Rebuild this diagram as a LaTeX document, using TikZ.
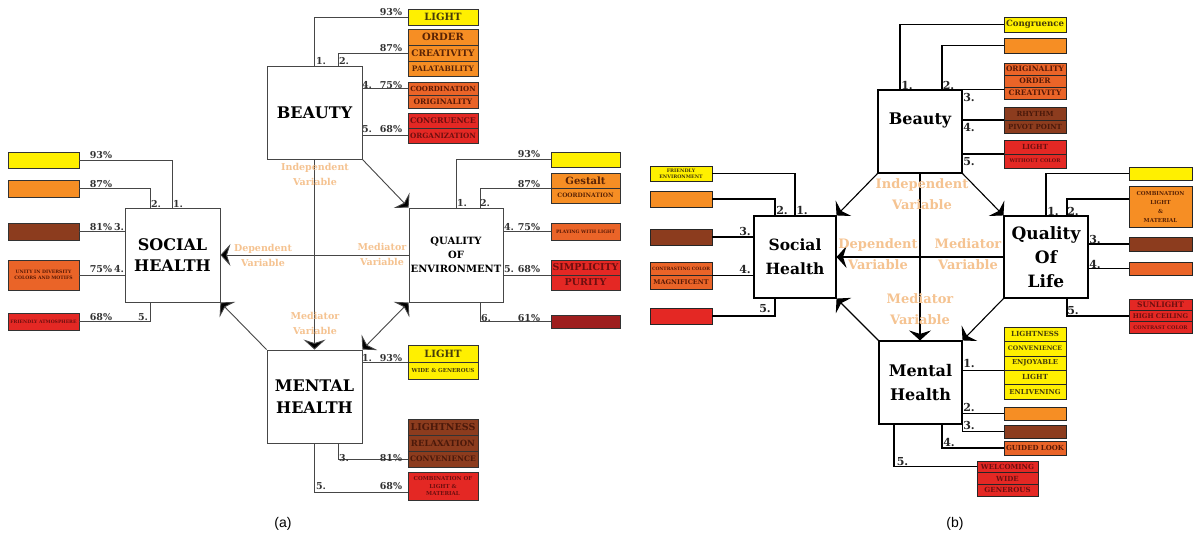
\documentclass[tikz,border=0pt]{standalone}
\usepackage{fontspec}
\usepackage{graphicx}
\setmainfont{DejaVu Serif}
\newfontfamily\capfont{Liberation Sans}
\usetikzlibrary{arrows.meta}
\definecolor{cY}{RGB}{255,240,0}
\definecolor{cO}{RGB}{246,142,36}
\definecolor{cOR}{RGB}{234,100,40}
\definecolor{cBR}{RGB}{140,60,30}
\definecolor{cR}{RGB}{228,40,36}
\definecolor{cDR}{RGB}{158,30,30}
\definecolor{tY}{RGB}{70,60,10}
\definecolor{tO}{RGB}{90,35,5}
\definecolor{tOR}{RGB}{90,25,5}
\definecolor{tBR}{RGB}{75,25,10}
\definecolor{tR}{RGB}{110,15,15}
\definecolor{peach}{RGB}{245,195,145}
\definecolor{lineA}{RGB}{70,70,70}
\newsavebox\fitbox
\newcommand\fitw[2]{\sbox\fitbox{#2}\ifdim\wd\fitbox>#1\relax\resizebox{#1}{!}{\usebox\fitbox}\else\usebox\fitbox\fi}
\newcommand\fitA[1]{\fitw{66pt}{#1}}
\newcommand\fitB[1]{\fitw{58pt}{#1}}
\newcommand\myfs[2]{\fontsize{#1}{#2}\selectfont}
\tikzset{
  mboxA/.style={draw=lineA, line width=0.9pt, fill=white, inner sep=0pt, align=center},
  mboxB/.style={draw=black, line width=1.1pt, fill=white, inner sep=0pt, align=center},
  cellA/.style={draw=black!80, line width=0.6pt, minimum width=70, inner sep=0pt, outer sep=0pt, align=center},
  cellB/.style={draw=black!85, line width=0.6pt, minimum width=62, inner sep=0pt, outer sep=0pt, align=center},
  fY/.style={fill=cY, text=tY}, fO/.style={fill=cO, text=tO}, fOR/.style={fill=cOR, text=tOR},
  fBR/.style={fill=cBR, text=tBR}, fR/.style={fill=cR, text=tR}, fDR/.style={fill=cDR, text=tR},
  connA/.style={draw=lineA, line width=0.9pt},
  connB/.style={draw=black, line width=1.1pt},
  chev/.tip={Stealth[length=10pt,width=22pt,inset=3.5pt,fill=black]},
  arr/.style={-chev},
  dbl/.style={chev-chev},
  pct/.style={font=\bfseries\myfs{9.5}{9.5}, text=black!80, inner sep=0pt},
  numB/.style={font=\bfseries\myfs{11}{11}, text=black!85, inner sep=0pt},
  lblA/.style={font=\bfseries\myfs{9.5}{15}, text=peach, align=center, inner sep=0pt},
  lblB/.style={font=\bfseries\myfs{13}{21}, text=peach, align=center, inner sep=0pt},
}
\begin{document}
\begin{tikzpicture}[x=1pt, y=-1pt]
\fill[white] (0,0) rectangle (1194,546);
\useasboundingbox (0,0) rectangle (1194,546);

% ================= (a) =================
\node[mboxA, minimum width=95, minimum height=93, font=\bfseries\myfs{16}{20}] (beautyA) at (314.5,112.5) {BEAUTY};
\node[mboxA, minimum width=95, minimum height=94, font=\bfseries\myfs{16}{21}] (socialA) at (172.5,255) {SOCIAL\\HEALTH};
\node[mboxA, minimum width=94, minimum height=94, font=\bfseries\myfs{10}{14}] (qoeA) at (456,255) {QUALITY\\OF\\ENVIRONMENT};
\node[mboxA, minimum width=95, minimum height=93, font=\bfseries\myfs{16}{22}] (mentalA) at (314.5,396.5) {MENTAL\\HEALTH};

% beauty items
\node[cellA, fY, minimum height=16, font=\bfseries\myfs{10}{10}] (a1) at (443,17) {\fitA{LIGHT}};
\node[cellA, fO, minimum height=16, font=\bfseries\myfs{10}{10}] (a2a) at (443,37) {\fitA{ORDER}};
\node[cellA, fO, minimum height=16, font=\bfseries\myfs{9}{9}] (a2b) at (443,53) {\fitA{CREATIVITY}};
\node[cellA, fO, minimum height=15, font=\bfseries\myfs{7.5}{7.5}] (a2c) at (443,68.5) {\fitA{PALATABILITY}};
\node[cellA, fOR, minimum height=13, font=\bfseries\myfs{7}{7}] (a4a) at (443,88.5) {\fitA{COORDINATION}};
\node[cellA, fOR, minimum height=13, font=\bfseries\myfs{7.5}{7.5}] (a4b) at (443,101.5) {\fitA{ORIGINALITY}};
\node[cellA, fR, minimum height=15, font=\bfseries\myfs{8}{8}] (a5a) at (443,120.5) {\fitA{CONGRUENCE}};
\node[cellA, fR, minimum height=15, font=\bfseries\myfs{7.5}{7.5}] (a5b) at (443,135.5) {\fitA{ORGANIZATION}};

% social items
\node[cellA, fY, minimum width=71, minimum height=16] (sa1) at (43.5,160) {};
\node[cellA, fO, minimum width=71, minimum height=17] (sa2) at (43.5,188.5) {};
\node[cellA, fBR, minimum width=71, minimum height=17] (sa3) at (43.5,231.5) {};
\node[cellA, fOR, minimum width=71, minimum height=30, font={\bfseries\myfs{4.6}{6}}] (sa4) at (43.5,275) {UNITY IN DIVERSITY\\COLORS AND MOTIFS};
\node[cellA, fR, minimum width=71, minimum height=17, font=\bfseries\myfs{4.6}{4.6}] (sa5) at (43.5,321.5) {\fitA{FRIENDLY ATMOSPHERE}};

% quality of environment items
\node[cellA, fY, minimum width=69, minimum height=15] (qa1) at (585.5,159.5) {};
\node[cellA, fO, minimum width=69, minimum height=15, font=\bfseries\myfs{10}{10}] (qa2a) at (585.5,180.5) {\fitA{Gestalt}};
\node[cellA, fO, minimum width=69, minimum height=15, font=\bfseries\myfs{6}{6}] (qa2b) at (585.5,195.5) {\fitA{COORDINATION}};
\node[cellA, fOR, minimum width=69, minimum height=17, font=\bfseries\myfs{4.6}{4.6}] (qa4) at (585.5,231.5) {\fitA{PLAYING WITH LIGHT}};
\node[cellA, fR, minimum width=69, minimum height=15, font=\bfseries\myfs{9.5}{9.5}] (qa5a) at (585.5,267.5) {\fitA{SIMPLICITY}};
\node[cellA, fR, minimum width=69, minimum height=15, font=\bfseries\myfs{9.5}{9.5}] (qa5b) at (585.5,282.5) {\fitA{PURITY}};
\node[cellA, fDR, minimum width=69, minimum height=13] (qa6) at (585.5,321.5) {};

% mental items
\node[cellA, fY, minimum height=17, font=\bfseries\myfs{10}{10}] (ma1a) at (443,353.5) {\fitA{LIGHT}};
\node[cellA, fY, minimum height=17, font=\bfseries\myfs{5.5}{5.5}] (ma1b) at (443,370.5) {\fitA{WIDE \& GENEROUS}};
\node[cellA, fBR, minimum height=16, font=\bfseries\myfs{9.5}{9.5}] (ma3a) at (443,427) {\fitA{LIGHTNESS}};
\node[cellA, fBR, minimum height=16, font=\bfseries\myfs{8.5}{8.5}] (ma3b) at (443,443) {\fitA{RELAXATION}};
\node[cellA, fBR, minimum height=16, font=\bfseries\myfs{7.5}{7.5}] (ma3c) at (443,459) {\fitA{CONVENIENCE}};
\node[cellA, fR, minimum height=28, font={\bfseries\myfs{5.5}{7.5}}] (ma5) at (443,486) {COMBINATION OF\\LIGHT \&\\MATERIAL};

% connectors (a)
\draw[connA] (beautyA.north) |- (a1.west);
\draw[connA] ([xshift=23.5]beautyA.north) |- (a2b.west);
\draw[connA] (a4a.west) -- (a4a.west -| beautyA.east);
\draw[connA] (a5b.west) -- (a5b.west -| beautyA.east);
\draw[connA] (socialA.north) |- (sa1.east);
\draw[connA] ([xshift=-22.5]socialA.north) |- (sa2.east);
\draw[connA] (sa3.east) -- (sa3.east -| socialA.west);
\draw[connA] (sa4.east) -- (sa4.east -| socialA.west);
\draw[connA] ([xshift=-22.5]socialA.south) |- (sa5.east);
\draw[connA] (qoeA.north) |- (qa1.west);
\draw[connA] ([xshift=24]qoeA.north) |- (qa2a.south west);
\draw[connA] (qa4.west) -- (qa4.west -| qoeA.east);
\draw[connA] (qa5a.south west) -- (qa5a.south west -| qoeA.east);
\draw[connA] ([xshift=24]qoeA.south) |- (qa6.west);
\draw[connA] (ma1a.south west) -- (ma1a.south west -| mentalA.east);
\draw[connA] ([xshift=23.5]mentalA.south) |- (ma3c.west);
\draw[connA] (mentalA.south) |- ([yshift=-6]ma5.west);

% arrows (a)
\draw[connA, arr] (beautyA.south) -- (mentalA.north);
\draw[connA, arr] (qoeA.west) -- (socialA.east);
\draw[connA, arr] (beautyA.south east) -- (qoeA.north west);
\draw[connA, arr] (mentalA.north west) -- (socialA.south east);
\draw[connA, dbl] (qoeA.south west) -- (mentalA.north east);

% percentages and numbers (a)
\node[pct] (pa1) at (391,12) {93\%};
\node[pct] (pa2) at (391,48) {87\%};
\node[pct] (na1) at (321,61) {1.};
\node[pct] (na2) at (344,61) {2.};
\node[pct] (na4) at (367,85) {4.};
\node[pct] (pa4) at (391,85) {75\%};
\node[pct] (na5) at (367,129) {5.};
\node[pct] (pa5) at (391,129) {68\%};

\node[pct] (ps1) at (101,155) {93\%};
\node[pct] (ps2) at (101,184) {87\%};
\node[pct] (ps3) at (101,227) {81\%};
\node[pct] (ns3) at (119,227) {3.};
\node[pct] (ps4) at (101,269) {75\%};
\node[pct] (ns4) at (119,269) {4.};
\node[pct] (ps5) at (101,317) {68\%};
\node[pct] (ns5) at (143,317) {5.};
\node[pct] (ns2) at (156,204) {2.};
\node[pct] (ns1) at (178,204) {1.};

\node[pct] (pq1) at (529,154) {93\%};
\node[pct] (pq2) at (529,184) {87\%};
\node[pct] (nq1) at (462,203) {1.};
\node[pct] (nq2) at (485,203) {2.};
\node[pct] (nq4) at (509,227) {4.};
\node[pct] (pq4) at (529,227) {75\%};
\node[pct] (nq5) at (509,269) {5.};
\node[pct] (pq5) at (529,269) {68\%};
\node[pct] (nq6) at (486,318) {6.};
\node[pct] (pq6) at (529,318) {61\%};

\node[pct] (nm1) at (367,358) {1.};
\node[pct] (pm1) at (391,358) {93\%};
\node[pct] (nm3) at (344,458) {3.};
\node[pct] (pm3) at (391,458) {81\%};
\node[pct] (nm5) at (321,486) {5.};
\node[pct] (pm5) at (391,486) {68\%};

% variable labels (a)
\node[lblA] (lia) at (315,174.5) {Independent\\Variable};
\node[lblA] (lda) at (263,255.5) {Dependent\\Variable};
\node[lblA] (lma) at (382,254) {Mediator\\Variable};
\node[lblA] (lmb) at (315,323) {Mediator\\Variable};

% ================= (b) =================
\node[mboxB, minimum width=84, minimum height=83, font=\bfseries\myfs{16}{20}] (beautyB) at (920,131.5) {Beauty\\[6pt]};
\node[mboxB, minimum width=82, minimum height=82, font=\bfseries\myfs{15.5}{24}] (socialB) at (795,257) {Social\\Health};
\node[mboxB, minimum width=84, minimum height=82, font=\bfseries\myfs{17}{24}] (qolB) at (1046,257) {Quality\\Of\\Life};
\node[mboxB, minimum width=83, minimum height=83, font=\bfseries\myfs{16}{24}] (mentalB) at (920.5,382.5) {Mental\\Health};

% beauty items (b)
\node[cellB, fY, minimum height=15, font=\bfseries\myfs{9}{9}] (bb1) at (1035,24.5) {\fitB{Congruence}};
\node[cellB, fO, minimum height=15] (bb2) at (1035,45.5) {};
\node[cellB, fOR, minimum height=12, font=\bfseries\myfs{7.5}{7.5}] (bb3a) at (1035,69) {\fitB{ORIGINALITY}};
\node[cellB, fOR, minimum height=12, font=\bfseries\myfs{7.5}{7.5}] (bb3b) at (1035,81) {\fitB{ORDER}};
\node[cellB, fOR, minimum height=12, font=\bfseries\myfs{7.5}{7.5}] (bb3c) at (1035,93) {\fitB{CREATIVITY}};
\node[cellB, fBR, minimum height=13, font=\bfseries\myfs{7}{7}] (bb4a) at (1035,113.5) {\fitB{RHYTHM}};
\node[cellB, fBR, minimum height=13, font=\bfseries\myfs{7}{7}] (bb4b) at (1035,126.5) {\fitB{PIVOT POINT}};
\node[cellB, fR, minimum height=14, font=\bfseries\myfs{7}{7}] (bb5a) at (1035,147) {\fitB{LIGHT}};
\node[cellB, fR, minimum height=14, font=\bfseries\myfs{5}{5}] (bb5b) at (1035,161) {\fitB{WITHOUT COLOR}};

% social items (b)
\node[cellB, fY, minimum height=15, font={\bfseries\myfs{4.8}{6}}] (sb1) at (681,173.5) {FRIENDLY\\ENVIRONMENT};
\node[cellB, fO, minimum height=16] (sb2) at (681,199) {};
\node[cellB, fBR, minimum height=16] (sb3) at (681,237) {};
\node[cellB, fOR, minimum height=13.5, font=\bfseries\myfs{5.5}{5.5}] (sb4a) at (681,268.75) {\fitB{CONTRASTING COLOR}};
\node[cellB, fOR, minimum height=13.5, font=\bfseries\myfs{6.5}{6.5}] (sb4b) at (681,282.25) {\fitB{MAGNIFICENT}};
\node[cellB, fR, minimum height=16] (sb5) at (681,316) {};

% quality of life items (b)
\node[cellB, fY, minimum width=63, minimum height=13] (qb1) at (1160.5,173.5) {};
\node[cellB, fO, minimum width=63, minimum height=41, font={\bfseries\myfs{5.5}{9}}] (qb2) at (1160.5,206.5) {COMBINATION\\LIGHT\\\&\\MATERIAL};
\node[cellB, fBR, minimum width=63, minimum height=14] (qb3) at (1160.5,244) {};
\node[cellB, fOR, minimum width=63, minimum height=13] (qb4) at (1160.5,268.5) {};
\node[cellB, fR, minimum width=63, minimum height=11.33, font=\bfseries\myfs{7.5}{7.5}] (qb5a) at (1160.5,304.67) {\fitB{SUNLIGHT}};
\node[cellB, fR, minimum width=63, minimum height=11.33, font=\bfseries\myfs{6.5}{6.5}] (qb5b) at (1160.5,316) {\fitB{HIGH CEILING}};
\node[cellB, fR, minimum width=63, minimum height=11.33, font=\bfseries\myfs{5}{5}] (qb5c) at (1160.5,327.33) {\fitB{CONTRAST COLOR}};

% mental items (b)
\node[cellB, fY, minimum height=14.4, font=\bfseries\myfs{7}{7}] (mb1a) at (1035,334.2) {\fitB{LIGHTNESS}};
\node[cellB, fY, minimum height=14.4, font=\bfseries\myfs{6.2}{6.2}] (mb1b) at (1035,348.6) {\fitB{CONVENIENCE}};
\node[cellB, fY, minimum height=14.4, font=\bfseries\myfs{6.8}{6.8}] (mb1c) at (1035,363) {\fitB{ENJOYABLE}};
\node[cellB, fY, minimum height=14.4, font=\bfseries\myfs{7}{7}] (mb1d) at (1035,377.4) {\fitB{LIGHT}};
\node[cellB, fY, minimum height=14.4, font=\bfseries\myfs{6.8}{6.8}] (mb1e) at (1035,391.8) {\fitB{ENLIVENING}};
\node[cellB, fO, minimum height=13] (mb2) at (1035,413.5) {};
\node[cellB, fBR, minimum height=13] (mb3) at (1035,431.5) {};
\node[cellB, fOR, minimum height=14, font=\bfseries\myfs{7}{7}] (mb4) at (1035,448) {\fitB{GUIDED LOOK}};
\node[cellB, fR, minimum width=61, minimum height=11.67, font=\bfseries\myfs{7}{7}] (mb5a) at (1007.5,466.83) {\fitB{WELCOMING}};
\node[cellB, fR, minimum width=61, minimum height=11.67, font=\bfseries\myfs{7}{7}] (mb5b) at (1007.5,478.5) {\fitB{WIDE}};
\node[cellB, fR, minimum width=61, minimum height=11.67, font=\bfseries\myfs{7}{7}] (mb5c) at (1007.5,490.17) {\fitB{GENEROUS}};

% connectors (b)
\draw[connB] ([xshift=-20]beautyB.north) |- (bb1.west);
\draw[connB] ([xshift=22]beautyB.north) |- (bb2.west);
\draw[connB] (beautyB.north east) -- (beautyB.north east -| bb3c.west);
\draw[connB] (bb4a.south west) -- (bb4a.south west -| beautyB.east);
\draw[connB] (bb5a.south west) -- (bb5a.south west -| beautyB.east);
\draw[connB] (socialB.north) |- (sb1.east);
\draw[connB] ([xshift=-20]socialB.north) |- (sb2.east);
\draw[connB] (sb3.east) -- (sb3.east -| socialB.west);
\draw[connB] (sb4a.south east) -- (sb4a.south east -| socialB.west);
\draw[connB] ([xshift=-20]socialB.south) |- (sb5.east);
\draw[connB] (qolB.north) |- (qb1.west);
\draw[connB] ([xshift=21]qolB.north) |- ([yshift=7.5]qb2.west);
\draw[connB] (qb3.west) -- (qb3.west -| qolB.east);
\draw[connB] (qb4.west) -- (qb4.west -| qolB.east);
\draw[connB] ([xshift=21]qolB.south) |- (qb5b.west);
\draw[connB] (mb1c.south west) -- (mb1c.south west -| mentalB.east);
\draw[connB] (mb2.west) -- (mb2.west -| mentalB.east);
\draw[connB] (mentalB.south east) |- (mb3.west);
\draw[connB] ([xshift=21.5]mentalB.south) |- (mb4.west);
\draw[connB] ([xshift=-26.5]mentalB.south) |- (mb5a.west);

% arrows (b)
\draw[connB, arr] (beautyB.south) -- (beautyB.south |- mentalB.north);
\draw[connB, arr] (qolB.west) -- (socialB.east);
\draw[connB, arr] (beautyB.south west) -- (socialB.north east);
\draw[connB, arr] (beautyB.south east) -- (qolB.north west);
\draw[connB, arr] (mentalB.north west) -- (socialB.south east);
\draw[connB, arr] (qolB.south west) -- (mentalB.north east);

% numbers (b)
\node[numB] (nb1) at (907,85) {1.};
\node[numB] (nb2) at (948.5,85) {2.};
\node[numB] (nb3) at (969,97.5) {3.};
\node[numB] (nb4) at (969,127.5) {4.};
\node[numB] (nb5) at (969,162) {5.};
\node[numB] (ns2b) at (782,210) {2.};
\node[numB] (ns1b) at (802,210) {1.};
\node[numB] (ns3b) at (745,231) {3.};
\node[numB] (ns4b) at (745,269) {4.};
\node[numB] (ns5b) at (765,309) {5.};
\node[numB] (nq1b) at (1053,211) {1.};
\node[numB] (nq2b) at (1073,211) {2.};
\node[numB] (nq3b) at (1095,239) {3.};
\node[numB] (nq4b) at (1095,264) {4.};
\node[numB] (nq5b) at (1073,311) {5.};
\node[numB] (nm1b) at (969,363) {1.};
\node[numB] (nm2b) at (969,407) {2.};
\node[numB] (nm3b) at (969,425) {3.};
\node[numB] (nm4b) at (949,442) {4.};
\node[numB] (nm5b) at (902.5,462) {5.};

% variable labels (b)
\node[lblB] (lib) at (922,194) {Independent\\Variable};
\node[lblB] (ldb) at (878,254) {Dependent\\Variable};
\node[lblB] (lmc) at (968,254) {Mediator\\Variable};
\node[lblB] (lmd) at (920,309) {Mediator\\Variable};

% captions
\node[font=\capfont\myfs{14}{14}] (capA) at (283,524) {(a)};
\node[font=\capfont\myfs{14}{14}] (capB) at (955,524) {(b)};
\end{tikzpicture}
\end{document}
